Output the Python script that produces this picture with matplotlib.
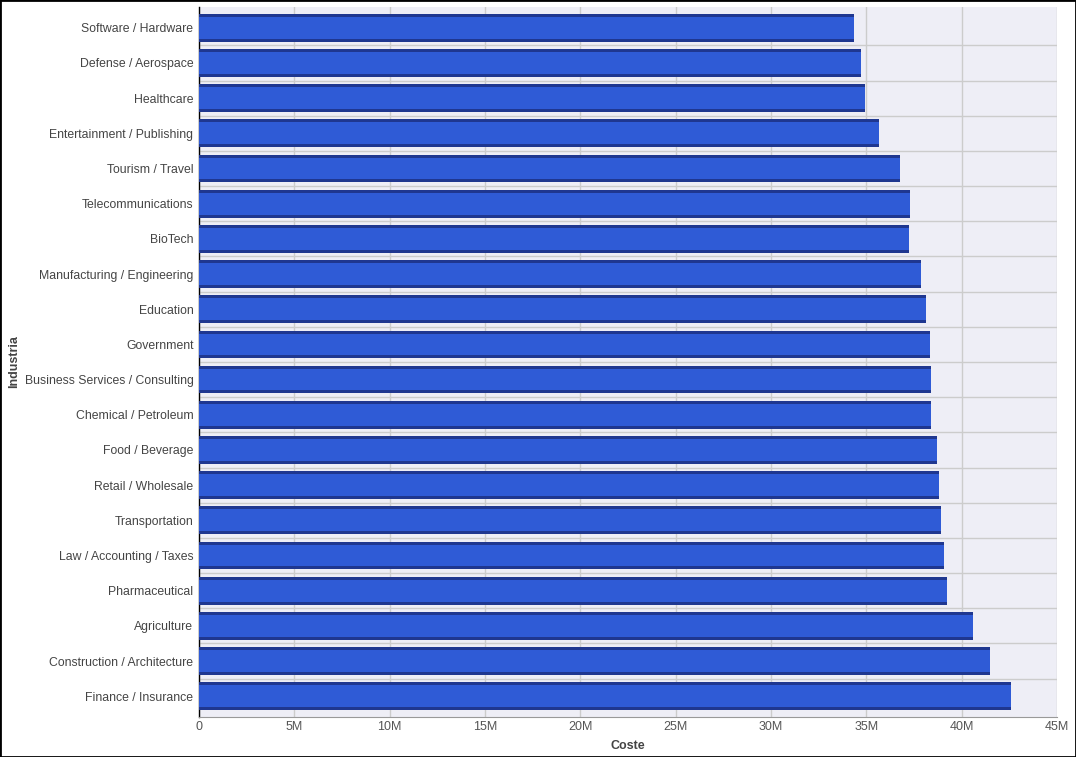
import matplotlib
matplotlib.use("Agg")
import matplotlib.pyplot as plt
import numpy as np
from matplotlib.ticker import FuncFormatter, MultipleLocator

industries = [
    "Software / Hardware", "Defense / Aerospace", "Healthcare",
    "Entertainment / Publishing", "Tourism / Travel", "Telecommunications",
    "BioTech", "Manufacturing / Engineering", "Education", "Government",
    "Business Services / Consulting", "Chemical / Petroleum", "Food / Beverage",
    "Retail / Wholesale", "Transportation", "Law / Accounting / Taxes",
    "Pharmaceutical", "Agriculture", "Construction / Architecture",
    "Finance / Insurance",
]
coste = [
    34.35e6, 34.71e6, 34.92e6, 35.66e6, 36.76e6, 37.28e6, 37.26e6, 37.86e6,
    38.12e6, 38.33e6, 38.38e6, 38.37e6, 38.70e6, 38.80e6, 38.91e6, 39.07e6,
    39.22e6, 40.59e6, 41.48e6, 42.58e6,
]

plt.rcParams["font.family"] = ["Liberation Sans", "DejaVu Sans"]

fig = plt.figure(figsize=(10.76, 7.57), dpi=100)
ax = fig.add_axes([199 / 1076, 1 - 717 / 757, 858 / 1076, 710 / 757])
ax.set_facecolor("#eeeef6")

y = np.arange(len(industries))
h = 0.79
main = "#2f5bd6"
dark = "#1f3790"
ax.barh(y, coste, height=h, color=main, zorder=3)
# darker top and bottom bands of each bar
band = 0.085
ax.barh(y - h / 2 + band / 2, coste, height=band, color=dark, zorder=4)
ax.barh(y + h / 2 - band / 2, coste, height=band, color=dark, zorder=4)

pad = 0.09
ax.set_ylim(len(industries) - 0.5 + pad, -0.5 - pad)
ax.set_xlim(0, 45e6)
ax.set_yticks(y)
ax.set_yticklabels(industries)
# grid lines only between categories
ax.set_yticks(np.arange(1, len(industries)) - 0.5, minor=True)
ax.xaxis.set_major_locator(MultipleLocator(5e6))
ax.xaxis.set_major_formatter(FuncFormatter(lambda v, p: "0" if v == 0 else "%dM" % (v / 1e6)))

ax.grid(True, axis="x", which="major", color="#cccccc", linewidth=1, zorder=1)
ax.grid(True, axis="y", which="minor", color="#cccccc", linewidth=1, zorder=1)
ax.tick_params(axis="y", which="both", length=0, labelsize=8.8, colors="#444444", pad=4)
ax.tick_params(axis="x", length=0, labelsize=9, labelcolor="#555555", pad=3)

for side in ["top", "right"]:
    ax.spines[side].set_visible(False)
ax.spines["left"].set_color("black")
ax.spines["left"].set_linewidth(1)
ax.spines["bottom"].set_color("#999999")

ax.set_xlabel("Coste", fontsize=9, fontweight="bold", color="#444444", labelpad=5)
ax.set_ylabel("Industria", fontsize=9, fontweight="bold", color="#444444")
ax.yaxis.set_label_coords(-0.2156, 0.5)
ax.yaxis.label.set_verticalalignment("center")

# black border round the whole image
fig.patches.append(plt.Rectangle((0, 0), 1, 1, transform=fig.transFigure,
                                 fill=False, edgecolor="black", linewidth=2))

fig.savefig("out.png", dpi=100)
plt.close(fig)
